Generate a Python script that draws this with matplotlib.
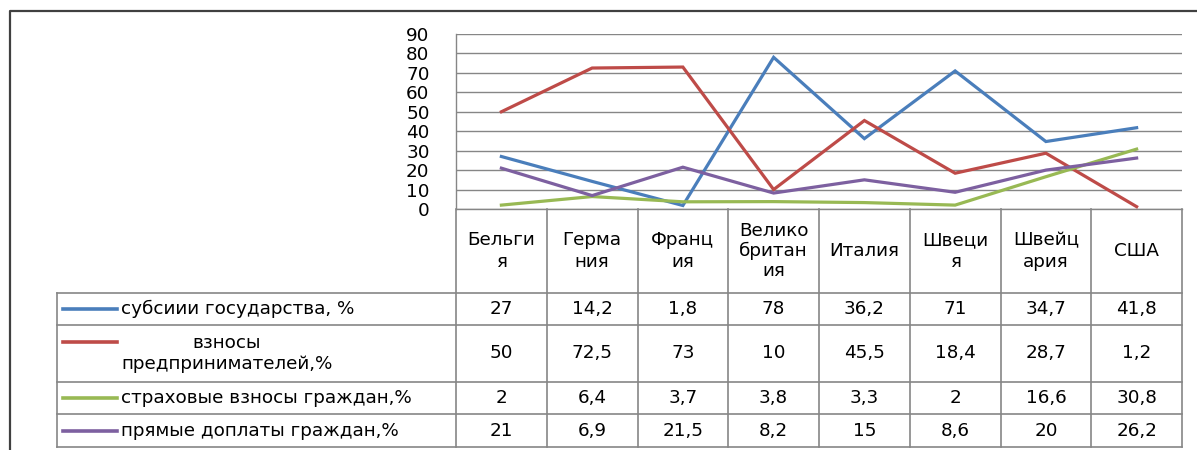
import matplotlib
matplotlib.use("Agg")
import matplotlib.pyplot as plt
from matplotlib.lines import Line2D
from matplotlib.transforms import blended_transform_factory

plt.rcParams['font.family'] = ['DejaVu Sans']

# ---- data ----
categories = ["Бельги\nя", "Герма\nния", "Франц\nия", "Велико\nбритан\nия",
              "Италия", "Швеци\nя", "Швейц\nария", "США"]
series_names = ["субсиии государства, %",
                "взносы\nпредпринимателей,%",
                "страховые взносы граждан,%",
                "прямые доплаты граждан,%"]
subsidies = [27, 14.2, 1.8, 78, 36.2, 71, 34.7, 41.8]
employers = [50, 72.5, 73, 10, 45.5, 18.4, 28.7, 1.2]
insurance = [2, 6.4, 3.7, 3.8, 3.3, 2, 16.6, 30.8]
direct_pay = [21, 6.9, 21.5, 8.2, 15, 8.6, 20, 26.2]
y_ticks = [0, 10, 20, 30, 40, 50, 60, 70, 80, 90]

series = [subsidies, employers, insurance, direct_pay]
colors = ["#4A7EBB", "#BE4B48", "#98B954", "#7D60A0"]

W, H = 1197, 450
FS = 13.2
fig = plt.figure(figsize=(W / 100, H / 100), dpi=100)

def fx(px):
    return px / W

def fy(py):
    return 1 - py / H

# plot area
left_px, right_px, top_px, bot_px = 456, 1182, 34, 209
ax = fig.add_axes([fx(left_px), fy(bot_px), fx(right_px) - fx(left_px), fy(top_px) - fy(bot_px)])
n = len(categories)
xs = list(range(n))
for vals, c in zip(series, colors):
    ax.plot(xs, vals, color=c, lw=2.3, solid_joinstyle='miter', zorder=3)

ax.set_xlim(-0.5, n - 0.5)
ax.set_ylim(0, 90)
ax.set_yticks(y_ticks)
ax.set_yticklabels([str(t) for t in y_ticks], fontsize=FS)
ax.tick_params(axis='y', length=0, pad=19)
ax.set_xticks([])
ax.grid(axis='y', color='#868686', lw=1.0)
for s in ['top', 'right']:
    ax.spines[s].set_visible(False)
ax.spines['left'].set_color('#868686')
ax.spines['bottom'].set_color('#868686')
ax.spines['left'].set_linewidth(1.0)
ax.spines['bottom'].set_linewidth(1.0)
ax.set_facecolor('none')

# ---- data table ----
bt = blended_transform_factory(ax.transData, fig.transFigure)
grid_c = '#868686'
row_edges = [293, 325, 382, 414, 447]
table_left = 57

# column lines (from axis bottom down to table bottom)
for i in range(n + 1):
    x = i - 0.5
    fig.add_artist(Line2D([x, x], [fy(bot_px), fy(row_edges[-1])], transform=bt,
                          color=grid_c, lw=1.2))
# row lines
for r in row_edges:
    fig.add_artist(Line2D([fx(table_left), fx(right_px)], [fy(r), fy(r)],
                          transform=fig.transFigure, color=grid_c, lw=1.2))
# left border of legend column
fig.add_artist(Line2D([fx(table_left), fx(table_left)], [fy(row_edges[0]), fy(row_edges[-1])],
                      transform=fig.transFigure, color=grid_c, lw=1.2))

# header labels
header_cy = 251
for i, lab in enumerate(categories):
    nlines = lab.count("\n") + 1
    fig.text(i, fy(header_cy), lab, transform=bt, ha='center', va='center',
             fontsize=FS, linespacing=1.3 if nlines < 3 else 1.1)

# values
for r, vals in enumerate(series):
    cy = (row_edges[r] + row_edges[r + 1]) / 2
    for i, v in enumerate(vals):
        s = ("%g" % v).replace('.', ',')
        fig.text(i, fy(cy), s, transform=bt, ha='center', va='center', fontsize=FS)

# legend keys and names
for r, (name, c) in enumerate(zip(series_names, colors)):
    cy = (row_edges[r] + row_edges[r + 1]) / 2
    nlines = name.count("\n") + 1
    ky = cy if nlines == 1 else cy - 12
    fig.add_artist(Line2D([fx(63), fx(117)], [fy(ky), fy(ky)], transform=fig.transFigure,
                          color=c, lw=2.6))
    fig.text(fx(121), fy(cy), name, ha='left', va='center', fontsize=FS,
             multialignment='center', linespacing=1.25)

# outer chart frame (left and top)
fig.add_artist(Line2D([fx(10), fx(10), fx(W)], [fy(H), fy(11), fy(11)],
                      transform=fig.transFigure, color='#404040', lw=1.6))

fig.savefig("out.png", dpi=100)
